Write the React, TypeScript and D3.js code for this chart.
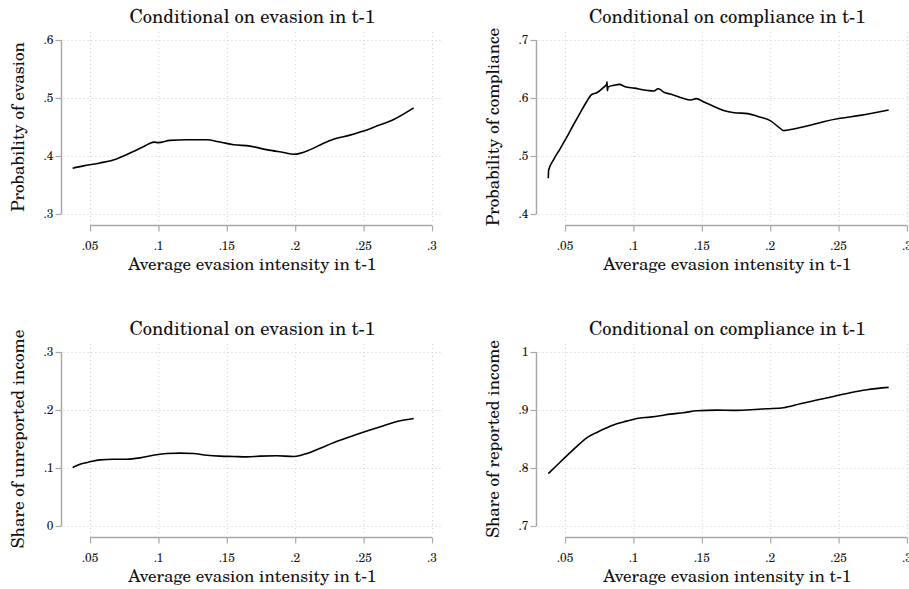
import React, { useEffect, useRef } from 'react';
import * as d3 from 'd3';

// x values shared by the tick labels of every panel
const xTicks = [0.05, 0.1, 0.15, 0.2, 0.25, 0.3];

// Panel 1: probability of evasion, conditional on evasion in t-1
const evasionProbX = [0.0373, 0.0451, 0.0573, 0.0695, 0.0793, 0.089, 0.0968, 0.1, 0.1085, 0.1207, 0.135, 0.145, 0.155, 0.167, 0.179, 0.1915, 0.199, 0.211, 0.2207, 0.228, 0.24, 0.25, 0.26, 0.272, 0.2866];
const evasionProbY = [0.379, 0.383, 0.388, 0.395, 0.405, 0.416, 0.424, 0.423, 0.427, 0.428, 0.428, 0.424, 0.4195, 0.417, 0.411, 0.406, 0.403, 0.411, 0.422, 0.429, 0.436, 0.443, 0.452, 0.463, 0.483];

// Panel 2: probability of compliance, conditional on compliance in t-1
const complianceProbX = [0.0378, 0.038, 0.0415, 0.0463, 0.0512, 0.056, 0.061, 0.0659, 0.0695, 0.0732, 0.078, 0.0805, 0.0807, 0.081, 0.0815, 0.086, 0.0898, 0.0934, 0.1007, 0.1105, 0.115, 0.118, 0.12, 0.1215, 0.1276, 0.1349, 0.1422, 0.1459, 0.152, 0.1593, 0.1666, 0.1737, 0.1837, 0.191, 0.2, 0.2073, 0.2098, 0.2171, 0.2268, 0.239, 0.2512, 0.2658, 0.2866];
const complianceProbY = [0.4615, 0.475, 0.493, 0.512, 0.532, 0.553, 0.574, 0.594, 0.606, 0.609, 0.618, 0.624, 0.628, 0.6126, 0.619, 0.622, 0.6235, 0.62, 0.617, 0.613, 0.612, 0.616, 0.614, 0.611, 0.6063, 0.6006, 0.5966, 0.599, 0.5925, 0.585, 0.578, 0.5747, 0.573, 0.568, 0.561, 0.5477, 0.5437, 0.5466, 0.5517, 0.5592, 0.565, 0.57, 0.5793];

// Panel 3: share of unreported income, conditional on evasion in t-1
const unreportedX = [0.0373, 0.0427, 0.0488, 0.0573, 0.0671, 0.0768, 0.0866, 0.0963, 0.1061, 0.1159, 0.1256, 0.1354, 0.1451, 0.1549, 0.1646, 0.1744, 0.1866, 0.1988, 0.2037, 0.2085, 0.2183, 0.228, 0.2402, 0.2524, 0.2646, 0.2768, 0.2866];
const unreportedY = [0.1008, 0.1066, 0.11, 0.114, 0.1152, 0.1152, 0.1175, 0.122, 0.125, 0.1256, 0.125, 0.122, 0.1204, 0.1198, 0.1192, 0.1204, 0.121, 0.1198, 0.1215, 0.125, 0.1342, 0.1434, 0.1538, 0.1636, 0.1728, 0.1814, 0.1854];

// Panel 4: share of reported income, conditional on compliance in t-1
const reportedX = [0.0378, 0.0439, 0.0512, 0.0585, 0.0659, 0.0732, 0.0805, 0.0878, 0.0951, 0.1024, 0.1122, 0.1195, 0.1268, 0.1366, 0.1463, 0.161, 0.1732, 0.1854, 0.1976, 0.2098, 0.222, 0.2341, 0.2463, 0.2585, 0.2707, 0.2866];
const reportedY = [0.7904, 0.8043, 0.821, 0.837, 0.852, 0.8613, 0.8693, 0.8762, 0.8808, 0.8854, 0.8877, 0.89, 0.8929, 0.8952, 0.8987, 0.8998, 0.8993, 0.9004, 0.9021, 0.9039, 0.9108, 0.9171, 0.9234, 0.9298, 0.935, 0.939];

const panels = [
    { title: 'Conditional on evasion in t-1', ylabel: 'Probability of evasion', yTicks: [0.3, 0.4, 0.5, 0.6], xs: evasionProbX, ys: evasionProbY },
    { title: 'Conditional on compliance in t-1', ylabel: 'Probability of compliance', yTicks: [0.4, 0.5, 0.6, 0.7], xs: complianceProbX, ys: complianceProbY },
    { title: 'Conditional on evasion in t-1', ylabel: 'Share of unreported income', yTicks: [0, 0.1, 0.2, 0.3], xs: unreportedX, ys: unreportedY },
    { title: 'Conditional on compliance in t-1', ylabel: 'Share of reported income', yTicks: [0.7, 0.8, 0.9, 1], xs: reportedX, ys: reportedY },
];

const fmt = (v: number) => (v === 0 ? '0' : v === 1 ? '1' : d3.format('.2~f')(v).replace(/^0/, ''));

const App: React.FC = () => {
    const ref = useRef<SVGSVGElement>(null);

    useEffect(() => {
        const svg = d3.select(ref.current);
        svg.selectAll('*').remove();

        const width = 909;
        const height = 589;
        const font = '"TeX Gyre Schola", "DejaVu Serif", serif';
        const axisGrey = '#a8a8a8';
        const gridGrey = '#cfcfcf';

        // panel geometry (relative to each panel's origin)
        const axisX = 61.5;
        const plotTop = 32;
        const plotRight = 443;
        const axisY = 225.5;

        svg.attr('width', width).attr('height', height);

        const label = (sel, size: number) => sel
            .style('font-family', font)
            .attr('font-size', size)
            .attr('fill', '#111');

        panels.forEach((p, i) => {
            const ox = (i % 2) * 475;
            const oy = Math.floor(i / 2) * 312;
            const g = svg.append('g').attr('transform', `translate(${ox},${oy})`);

            const x = d3.scaleLinear().domain([0.05, 0.3]).range([90, 432]);
            const y = d3.scaleLinear().domain([p.yTicks[0], p.yTicks[3]]).range([214, 40]);

            // grid
            g.append('g')
                .selectAll('line')
                .data(p.yTicks)
                .join('line')
                .attr('x1', axisX + 2).attr('x2', plotRight)
                .attr('y1', d => y(d) + 0.5).attr('y2', d => y(d) + 0.5)
                .attr('stroke', gridGrey).attr('stroke-dasharray', '1,3');
            g.append('g')
                .selectAll('line')
                .data(xTicks)
                .join('line')
                .attr('x1', d => x(d) + 0.5).attr('x2', d => x(d) + 0.5)
                .attr('y1', plotTop).attr('y2', axisY - 2)
                .attr('stroke', gridGrey).attr('stroke-dasharray', '1,3');

            // y axis
            g.append('line')
                .attr('x1', axisX).attr('x2', axisX)
                .attr('y1', y(p.yTicks[3])).attr('y2', y(p.yTicks[0]))
                .attr('stroke', axisGrey).attr('stroke-width', 1.5);
            g.append('g')
                .selectAll('line')
                .data(p.yTicks)
                .join('line')
                .attr('x1', axisX - 6).attr('x2', axisX)
                .attr('y1', d => y(d) + 0.5).attr('y2', d => y(d) + 0.5)
                .attr('stroke', axisGrey).attr('stroke-width', 1.2);
            g.append('g')
                .selectAll('text')
                .data(p.yTicks)
                .join('text')
                .attr('x', axisX - 8)
                .attr('y', d => y(d))
                .attr('dy', '0.35em')
                .attr('text-anchor', 'end')
                .call(label, 12)
                .text(fmt);

            // x axis
            g.append('line')
                .attr('x1', x(0.05)).attr('x2', x(0.3))
                .attr('y1', axisY).attr('y2', axisY)
                .attr('stroke', axisGrey).attr('stroke-width', 1.5);
            g.append('g')
                .selectAll('line')
                .data(xTicks)
                .join('line')
                .attr('x1', d => x(d) + 0.5).attr('x2', d => x(d) + 0.5)
                .attr('y1', axisY).attr('y2', axisY + 6)
                .attr('stroke', axisGrey).attr('stroke-width', 1.2);
            g.append('g')
                .selectAll('text')
                .data(xTicks)
                .join('text')
                .attr('x', d => x(d))
                .attr('y', 249.5)
                .attr('text-anchor', 'middle')
                .call(label, 12)
                .text(fmt);

            // titles
            g.append('text')
                .attr('x', (axisX + plotRight) / 2)
                .attr('y', 22.5)
                .attr('text-anchor', 'middle')
                .call(label, 18.5)
                .text(p.title);
            g.append('text')
                .attr('x', (axisX + plotRight) / 2)
                .attr('y', 269.5)
                .attr('text-anchor', 'middle')
                .call(label, 17)
                .text('Average evasion intensity in t-1');
            g.append('text')
                .attr('transform', `translate(23.5,127) rotate(-90)`)
                .attr('text-anchor', 'middle')
                .call(label, 17)
                .text(p.ylabel);

            // the curve
            const pts: [number, number][] = p.xs.map((v, k) => [v, p.ys[k]]);
            g.append('path')
                .datum(pts)
                .attr('fill', 'none')
                .attr('stroke', '#000')
                .attr('stroke-width', 1.6)
                .attr('stroke-linejoin', 'round')
                .attr('d', d3.line<[number, number]>()
                    .curve(d3.curveMonotoneX)
                    .x(d => x(d[0])).y(d => y(d[1])));
        });
    }, []);

    return <svg ref={ref} style={{ position: 'absolute', left: 0, top: 0, background: '#fff' }} />;
};

export default App;
